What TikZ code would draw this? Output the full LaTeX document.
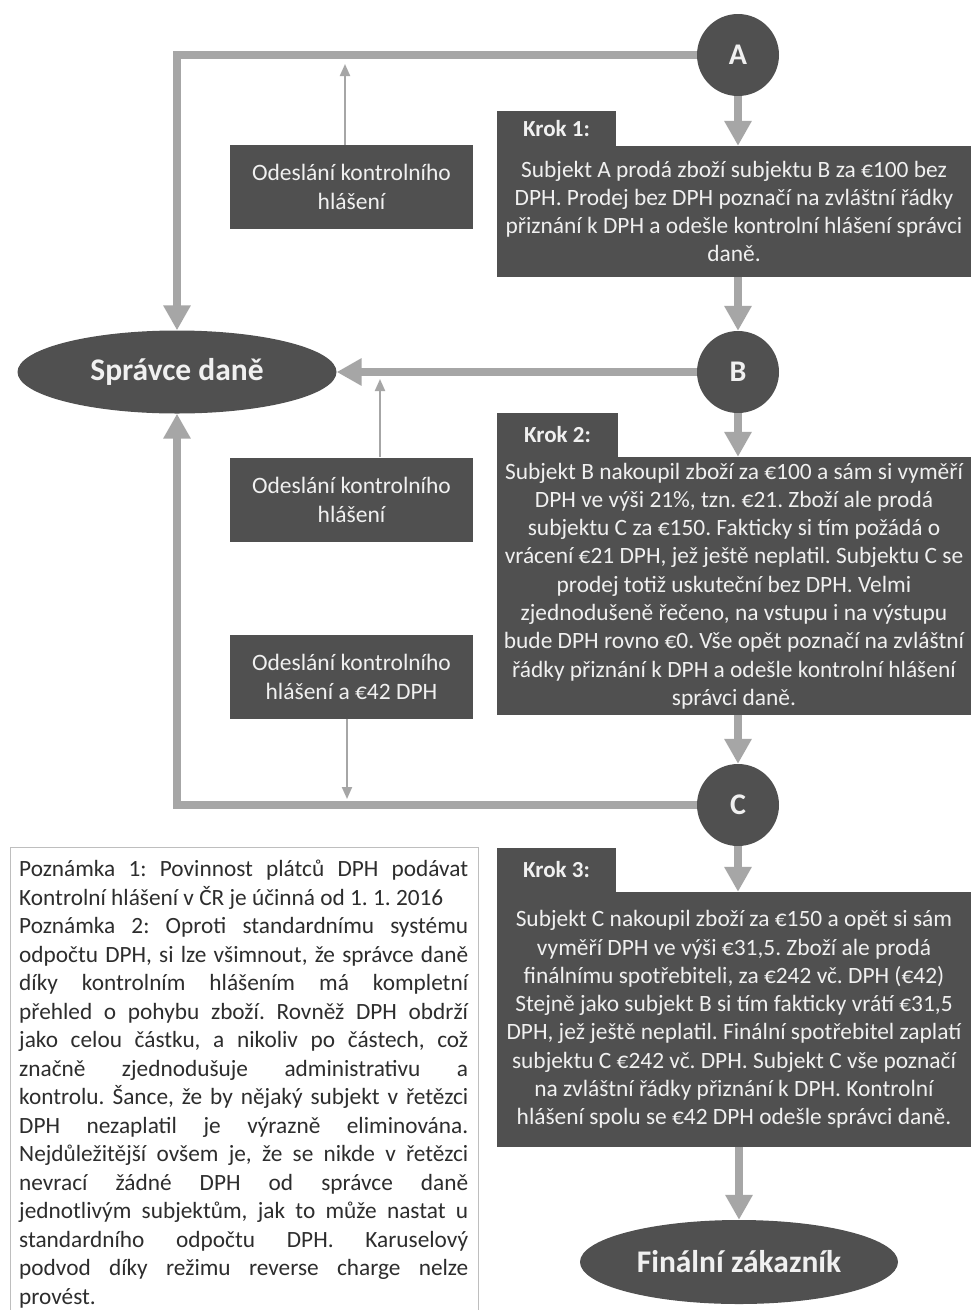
\documentclass[tikz,border=0pt]{standalone}
\usepackage{fontspec}
\setmainfont{Carlito}
\usetikzlibrary{arrows.meta,shapes.geometric}
\definecolor{dk}{RGB}{80,80,80}
\definecolor{ar}{RGB}{166,166,166}
\definecolor{tx}{RGB}{240,240,240}
\definecolor{nt}{RGB}{45,45,45}
\definecolor{nb}{RGB}{190,190,190}
\newlength{\notew}
\setlength{\notew}{449pt}
\newcommand{\jline}[1]{\makebox[\notew][s]{#1}}
\newcommand{\lline}[1]{\makebox[\notew][l]{#1}}
\frenchspacing
\begin{document}
\begin{tikzpicture}[x=1pt,y=-1pt,
  bodytxt/.style={font=\fontsize{23.4}{28.3}\selectfont},
  kbox/.style={fill=dk, text=tx, inner sep=0pt, align=center, bodytxt},
  ktab/.style={fill=dk, text=tx, inner sep=0pt, font=\fontsize{23}{26}\selectfont\bfseries},
  sbox/.style={fill=dk, text=tx, inner sep=0pt, align=center, minimum width=243pt, minimum height=84pt, font=\fontsize{23.5}{29}\selectfont},
  circ/.style={circle, fill=dk, text=tx, minimum size=82pt, inner sep=0pt, font=\fontsize{30}{34}\selectfont\bfseries},
  ell/.style={ellipse, fill=dk, text=tx, inner sep=0pt, font=\fontsize{31.5}{36}\selectfont\bfseries},
  thk/.style={draw=ar, line width=8pt, -{Triangle[width=26pt,length=25pt]}},
  thn/.style={draw=ar, line width=2pt, -{Triangle[width=10pt,length=12pt]}}
]
\clip (0,0) rectangle (972,1310);
\fill[white] (0,0) rectangle (972,1310);

% circles
\node[circ] (A) at (738,55) {A};
\node[circ] (B) at (738,372) {B};
\node[circ] (C) at (738,805) {C};

% ellipses
\node[ell, minimum width=319pt, minimum height=83pt] (sd) at (177,372) {Správce daně};
\node[ell, minimum width=318pt, minimum height=84pt] (fz) at (739,1262) {Finální zákazník};

% step boxes
\node[ktab, minimum width=119pt, minimum height=36pt] (t1) at (556.5,128.5) {Krok 1:};
\node[kbox, minimum width=474pt, minimum height=131pt] (k1) at (734,211.5) {Subjekt A prodá zboží subjektu B za €100 bez\\DPH. Prodej bez DPH poznačí na zvláštní řádky\\přiznání k DPH a odešle kontrolní hlášení správci\\daně.};

\node[ktab, minimum width=121pt, minimum height=44pt] (t2) at (557.5,435) {Krok 2:};
\node[kbox, minimum width=474pt, minimum height=258pt] (k2) at (734,586) {Subjekt B nakoupil zboží za €100 a sám si vyměří\\DPH ve výši 21\%, tzn. €21. Zboží ale prodá\\subjektu C za €150. Fakticky si tím požádá o\\vrácení €21 DPH, jež ještě neplatil. Subjektu C se\\prodej totiž uskuteční bez DPH. Velmi\\zjednodušeně řečeno, na vstupu i na výstupu\\bude DPH rovno €0. Vše opět poznačí na zvláštní\\řádky přiznání k DPH a odešle kontrolní hlášení\\správci daně.};

\node[ktab, minimum width=119pt, minimum height=44pt] (t3) at (556.5,870) {Krok 3:};
\node[kbox, minimum width=474pt, minimum height=255pt] (k3) at (734,1019.5) {Subjekt C nakoupil zboží za €150 a opět si sám\\vyměří DPH ve výši €31,5. Zboží ale prodá\\finálnímu spotřebiteli, za €242 vč. DPH (€42)\\Stejně jako subjekt B si tím fakticky vrátí €31,5\\DPH, jež ještě neplatil. Finální spotřebitel zaplatí\\subjektu C €242 vč. DPH. Subjekt C vše poznačí\\na zvláštní řádky přiznání k DPH. Kontrolní\\hlášení spolu se €42 DPH odešle správci daně.};

% side boxes
\node[sbox] (b1) at (351.5,187) {Odeslání kontrolního\\hlášení};
\node[sbox] (b2) at (351.5,499.5) {Odeslání kontrolního\\hlášení};
\node[sbox] (b3) at (351.5,676.5) {Odeslání kontrolního\\hlášení a €42 DPH};

% note box
\node[draw=nb, line width=1pt, minimum width=468pt, minimum height=480pt, anchor=north west] (nbox) at (10,847) {};
\node[anchor=north west, inner sep=0pt, text=nt, align=left, font=\fontsize{23.3}{28.5}\selectfont] (ntext) at (19,860) {%
\jline{Poznámka 1: Povinnost plátců DPH podávat}\\
\lline{Kontrolní hlášení v ČR je účinná od 1. 1. 2016}\\
\jline{Poznámka 2: Oproti standardnímu systému}\\
\jline{odpočtu DPH, si lze všimnout, že správce daně}\\
\jline{díky kontrolním hlášením má kompletní}\\
\jline{přehled o pohybu zboží. Rovněž DPH obdrží}\\
\jline{jako celou částku, a nikoliv po částech, což}\\
\jline{značně zjednodušuje administrativu a}\\
\jline{kontrolu. Šance, že by nějaký subjekt v řetězci}\\
\jline{DPH nezaplatil je výrazně eliminována.}\\
\jline{Nejdůležitější ovšem je, že se nikde v řetězci}\\
\jline{nevrací žádné DPH od správce daně}\\
\jline{jednotlivým subjektům, jak to může nastat u}\\
\jline{standardního odpočtu DPH. Karuselový}\\
\jline{podvod díky režimu reverse charge nelze}\\
\lline{provést.}};

% coordinates for thin arrows
\coordinate (p1) at (345,64);
\coordinate (p2) at (380,379);
\coordinate (p3) at (347,799);

% thick connectors
\draw[thk] (A.west) -| (sd.north);
\draw[thk] (B.west) -- (sd.east);
\draw[thk] (C.west) -| (sd.south);
\draw[thk] (A.south) -- (A.south |- k1.north);
\draw[thk] (k1.south -| B.north) -- (B.north);
\draw[thk] (B.south) -- (B.south |- k2.north);
\draw[thk] (k2.south -| C.north) -- (C.north);
\draw[thk] (C.south) -- (C.south |- k3.north);
\draw[thk] (k3.south -| fz.north) -- (fz.north);

% thin connectors
\draw[thn] (b1.north -| p1) -- (p1);
\draw[thn] (b2.north -| p2) -- (p2);
\draw[thn] (b3.south -| p3) -- (p3);
\end{tikzpicture}
\end{document}
